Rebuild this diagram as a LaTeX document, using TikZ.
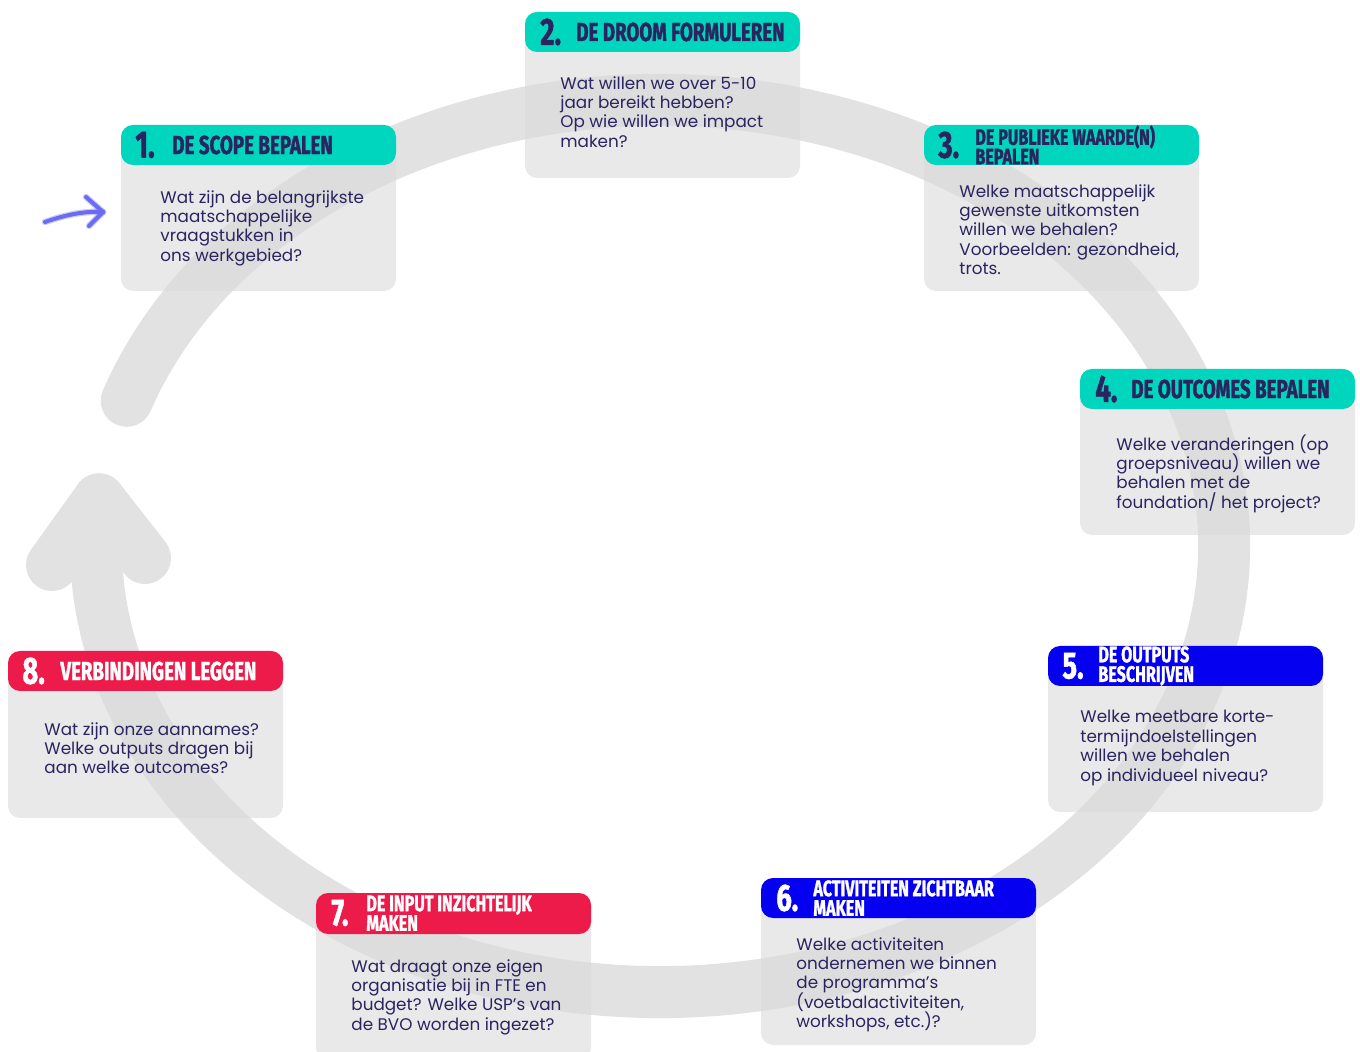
\documentclass[tikz,border=0pt]{standalone}
\usepackage{fontspec}
\setmainfont{Poppins}
\newfontfamily\headfont[FakeStretch=0.72,FakeBold=1.3]{Fira Sans Bold}
\definecolor{main}{RGB}{0,214,190}
\definecolor{second}{RGB}{6,0,240}
\definecolor{third}{RGB}{237,27,74}
\definecolor{ink}{RGB}{42,36,96}
\definecolor{ringgray}{RGB}{226,226,226}
\definecolor{boxgray}{RGB}{219,219,219}
\definecolor{note}{RGB}{108,108,240}
\usetikzlibrary{positioning,calc}
\tikzset{
  % ring
	cstring/.style   ={draw=ringgray,line width=26pt,line cap=round,line join=round},
	cstnote/.style   ={draw=note,line width=2pt,line cap=round,line join=round},
  % box
	cstbody/.style   ={fill=boxgray,fill opacity=.62,rounded corners=6pt},
	csthead1/.style  ={fill=main,rounded corners=6pt},
	csthead2/.style  ={fill=second,rounded corners=6pt},
	csthead3/.style  ={fill=third,rounded corners=6pt},
  % text
	cstnum/.style    ={font={\headfont\fontsize{19}{19}\selectfont},text=ink,inner sep=0,anchor=west},
	csttitle/.style  ={font={\headfont\fontsize{13}{13}\selectfont},text=ink,inner sep=0,anchor=west},
	csttitlet/.style ={font={\headfont\fontsize{11.2}{9.8}\selectfont\lineskiplimit=-5pt},text=ink,inner sep=0,anchor=west,align=left},
	csttext/.style   ={font={\fontsize{8.4}{9.7}\selectfont\lineskiplimit=-5pt},text=ink,inner sep=0,anchor=north west,align=left}
}

\begin{document}
\begin{tikzpicture}[x=.5pt,y=-.5pt]
	\useasboundingbox (0,0) rectangle (1360,1052);
	% ring
	\coordinate (O) at (660,546);
	\draw[cstring] (O) ++(199:564 and 446) arc[start angle=199,end angle=546,x radius=564,y radius=446] coordinate (tip);
	\coordinate (armL) at (52,565);
	\coordinate (armR) at (145,558);
	\draw[cstring] (armL) -- (tip) -- (armR);
	% small arrow
	\coordinate (s1) at (45,222);
	\coordinate (s2) at (103,212);
	\coordinate (s3) at (86,197);
	\coordinate (s4) at (89,226);
	\draw[cstnote,opacity=.35,line width=3.2pt] (s1) .. controls (68,214) and (86,211) .. (s2);
	\draw[cstnote,opacity=.35,line width=3.2pt] (s3) -- (s2) -- (s4);
	\draw[cstnote] (s1) .. controls (68,214) and (86,211) .. (s2);
	\draw[cstnote] (s3) -- (s2) -- (s4);
	% 1
	\fill[cstbody] (121,125) rectangle ++(275,166);
	\fill[csthead1] (121,125) rectangle ++(275,40);
	\node[cstnum] (n1) at (135,145) {1.};
	\node[csttitle] (t1) at (172,145) {DE SCOPE BEPALEN};
	\node[csttext] (q1) at (160,190) {Wat zijn de belangrijkste\\maatschappelijke\\vraagstukken in\\ons werkgebied?};
	% 2
	\fill[cstbody] (525,12) rectangle ++(275,166);
	\fill[csthead1] (525,12) rectangle ++(275,40);
	\node[cstnum] (n2) at (540,32) {2.};
	\node[csttitle] (t2) at (576,32) {DE DROOM FORMULEREN};
	\node[csttext] (q2) at (560,76) {Wat willen we over 5-10\\jaar bereikt hebben?\\Op wie willen we impact\\maken?};
	% 3
	\fill[cstbody] (924,125) rectangle ++(275,166);
	\fill[csthead1] (924,125) rectangle ++(275,40);
	\node[cstnum] (n3) at (938,145) {3.};
	\node[csttitlet] (t3) at (975,145) {DE PUBLIEKE WAARDE(N)\\BEPALEN};
	\node[csttext] (q3) at (959,184) {Welke maatschappelijk\\gewenste uitkomsten\\willen we behalen?\\Voorbeelden: gezondheid,\\trots.};
	% 4
	\fill[cstbody] (1080,369) rectangle ++(275,166);
	\fill[csthead1] (1080,369) rectangle ++(275,40);
	\node[cstnum] (n4) at (1095,389) {4.};
	\node[csttitle] (t4) at (1131,389) {DE OUTCOMES BEPALEN};
	\node[csttext] (q4) at (1116,434) {Welke veranderingen (op\\groepsniveau) willen we\\behalen met de\\foundation/ het project?};
	% 5
	\fill[cstbody] (1048,646) rectangle ++(275,166);
	\fill[csthead2] (1048,646) rectangle ++(275,40);
	\node[cstnum,text=white] (n5) at (1062,666) {5.};
	\node[csttitlet,text=white] (t5) at (1098,666) {DE OUTPUTS\\BESCHRIJVEN};
	\node[csttext] (q5) at (1080,710) {Welke meetbare korte-\\termijndoelstellingen\\willen we behalen\\op individueel niveau?};
	% 6
	\fill[cstbody] (761,878) rectangle ++(275,167);
	\fill[csthead2] (761,878) rectangle ++(275,40);
	\node[cstnum,text=white] (n6) at (776,898) {6.};
	\node[csttitlet,text=white] (t6) at (813,898) {ACTIVITEITEN ZICHTBAAR\\MAKEN};
	\node[csttext] (q6) at (796,937) {Welke activiteiten\\ondernemen we binnen\\de programma’s\\(voetbalactiviteiten,\\workshops, etc.)?};
	% 7
	\fill[cstbody] (316,893) rectangle ++(275,167);
	\fill[csthead3] (316,893) rectangle ++(275,41);
	\node[cstnum,text=white] (n7) at (331,913) {7.};
	\node[csttitlet,text=white] (t7) at (366,913) {DE INPUT INZICHTELIJK\\MAKEN};
	\node[csttext] (q7) at (351,959) {Wat draagt onze eigen\\organisatie bij in FTE en\\budget? Welke USP’s van\\de BVO worden ingezet?};
	% 8
	\fill[cstbody] (8,651) rectangle ++(275,167);
	\fill[csthead3] (8,651) rectangle ++(275,40);
	\node[cstnum,text=white] (n8) at (22,671) {8.};
	\node[csttitle,text=white] (t8) at (60,671) {VERBINDINGEN LEGGEN};
	\node[csttext] (q8) at (44,722) {Wat zijn onze aannames?\\Welke outputs dragen bij\\aan welke outcomes?};
\end{tikzpicture}
\end{document}
